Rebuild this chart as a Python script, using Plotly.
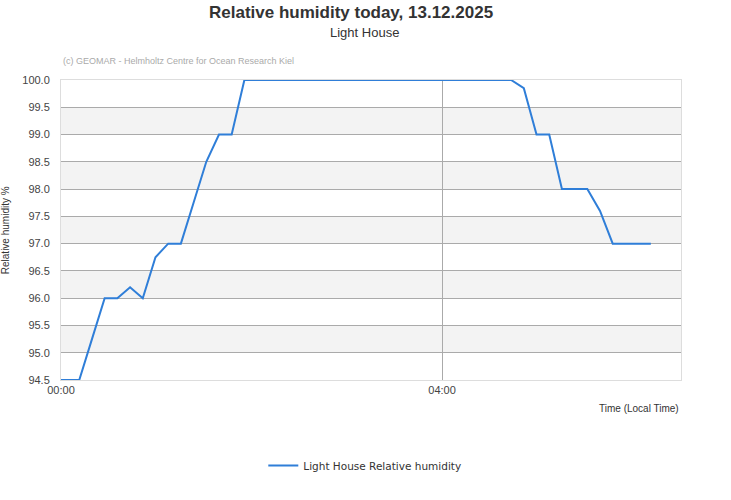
import plotly.graph_objects as go

# observation times (local) and relative humidity readings
times = [
    "2025-12-13 00:00:00", "2025-12-13 00:03:30", "2025-12-13 00:11:30", "2025-12-13 00:19:30",
    "2025-12-13 00:27:30", "2025-12-13 00:35:30", "2025-12-13 00:43:30", "2025-12-13 00:51:30",
    "2025-12-13 00:59:30", "2025-12-13 01:07:30", "2025-12-13 01:15:30", "2025-12-13 01:23:30",
    "2025-12-13 01:31:30", "2025-12-13 01:39:30", "2025-12-13 01:47:30", "2025-12-13 01:55:30",
    "2025-12-13 02:03:30", "2025-12-13 02:11:30", "2025-12-13 02:19:30", "2025-12-13 02:27:30",
    "2025-12-13 02:35:30", "2025-12-13 02:43:30", "2025-12-13 02:51:30", "2025-12-13 02:59:30",
    "2025-12-13 03:07:30", "2025-12-13 03:15:30", "2025-12-13 03:23:30", "2025-12-13 03:31:30",
    "2025-12-13 03:39:30", "2025-12-13 03:47:30", "2025-12-13 03:55:30", "2025-12-13 04:03:30",
    "2025-12-13 04:11:30", "2025-12-13 04:19:30", "2025-12-13 04:27:30", "2025-12-13 04:35:30",
    "2025-12-13 04:43:30", "2025-12-13 04:51:30", "2025-12-13 04:59:30", "2025-12-13 05:07:30",
    "2025-12-13 05:15:30", "2025-12-13 05:23:30", "2025-12-13 05:31:30", "2025-12-13 05:39:30",
    "2025-12-13 05:47:30", "2025-12-13 05:55:30", "2025-12-13 06:03:30", "2025-12-13 06:11:30",
]
humidity = [
    94.5, 94.5, 94.5, 95.25, 96.0, 96.0, 96.2, 96.0,
    96.75, 97.0, 97.0, 97.75, 98.5, 99.0, 99.0, 100.0,
    100.0, 100.0, 100.0, 100.0, 100.0, 100.0, 100.0, 100.0,
    100.0, 100.0, 100.0, 100.0, 100.0, 100.0, 100.0, 100.0,
    100.0, 100.0, 100.0, 100.0, 100.0, 99.85, 99.0, 99.0,
    98.0, 98.0, 98.0, 97.6, 97.0, 97.0, 97.0, 97.0,
]

y_ticks = [94.5, 95.0, 95.5, 96.0, 96.5, 97.0, 97.5, 98.0, 98.5, 99.0, 99.5, 100.0]
x_ticks = ["2025-12-13 00:00", "2025-12-13 04:00"]
x_labels = ["00:00", "04:00"]
band_starts = [95.0, 96.0, 97.0, 98.0, 99.0]

fig = go.Figure(go.Scatter(
    x=times, y=humidity, mode="lines",
    name="Light House Relative humidity",
    line=dict(color="#2f7ed8", width=2),
))

# alternating grey bands
shapes = []
for b in band_starts:
    shapes.append(dict(type="rect", xref="paper", yref="y", x0=0, x1=1, y0=b, y1=b + 0.5,
                       fillcolor="#f3f3f3", line=dict(width=0), layer="below"))
fig.update_layout(shapes=shapes)

fig.update_layout(
    width=731, height=500,
    margin=dict(l=61, r=50, t=80, b=120),
    paper_bgcolor="white", plot_bgcolor="white",
    font=dict(family="Liberation Sans, Arial, sans-serif", size=11, color="#444444"),
    showlegend=True,
    legend=dict(orientation="h", x=0.49, xanchor="center", y=-0.285, yanchor="middle",
                font=dict(family="DejaVu Sans", size=10.5, color="#333333")),
    xaxis=dict(
        type="date",
        range=["2025-12-13 00:00", "2025-12-13 06:30:30"],
        tickvals=x_ticks, ticktext=x_labels,
        showgrid=True, gridcolor="#aaaaaa", gridwidth=1,
        showline=True, linecolor="#dddddd", mirror=True,
        ticks="", tickfont=dict(size=11, color="#444444"),
        zeroline=False,
    ),
    yaxis=dict(
        range=[94.5, 100.0],
        tickvals=y_ticks, ticktext=[f"{v:.1f}" for v in y_ticks],
        showgrid=True, gridcolor="#aaaaaa", gridwidth=1,
        showline=True, linecolor="#dddddd", mirror=True,
        ticks="outside", ticklen=8, tickcolor="rgba(0,0,0,0)",
        tickfont=dict(size=11, color="#444444"),
        zeroline=False,
    ),
)

fig.add_annotation(xref="paper", yref="paper", x=0.468, y=1.225, xanchor="center", yanchor="middle",
                   text="<b>Relative humidity today, 13.12.2025</b>", showarrow=False,
                   font=dict(family="Liberation Sans, Arial, sans-serif", size=17, color="#333333"))
fig.add_annotation(xref="paper", yref="paper", x=0.49, y=1.157, xanchor="center", yanchor="middle",
                   text="Light House", showarrow=False,
                   font=dict(size=13, color="#333333"))
fig.add_annotation(xref="paper", yref="paper", x=0.0, y=1.065, xanchor="left", yanchor="middle",
                   text="(c) GEOMAR - Helmholtz Centre for Ocean Research Kiel", showarrow=False,
                   font=dict(size=9, color="#aaaaaa"))
fig.add_annotation(xref="paper", yref="paper", x=-0.09, y=0.5, xanchor="center", yanchor="middle",
                   text="Relative humidity %", textangle=-90, showarrow=False,
                   font=dict(size=10, color="#333333"))
fig.add_annotation(xref="paper", yref="paper", x=1.0, y=-0.095, xanchor="right", yanchor="middle",
                   text="Time (Local Time)", showarrow=False,
                   font=dict(size=10, color="#333333"))

fig.write_html("out.html", config={"displayModeBar": False},
               post_script="document.body.style.margin='0';")
